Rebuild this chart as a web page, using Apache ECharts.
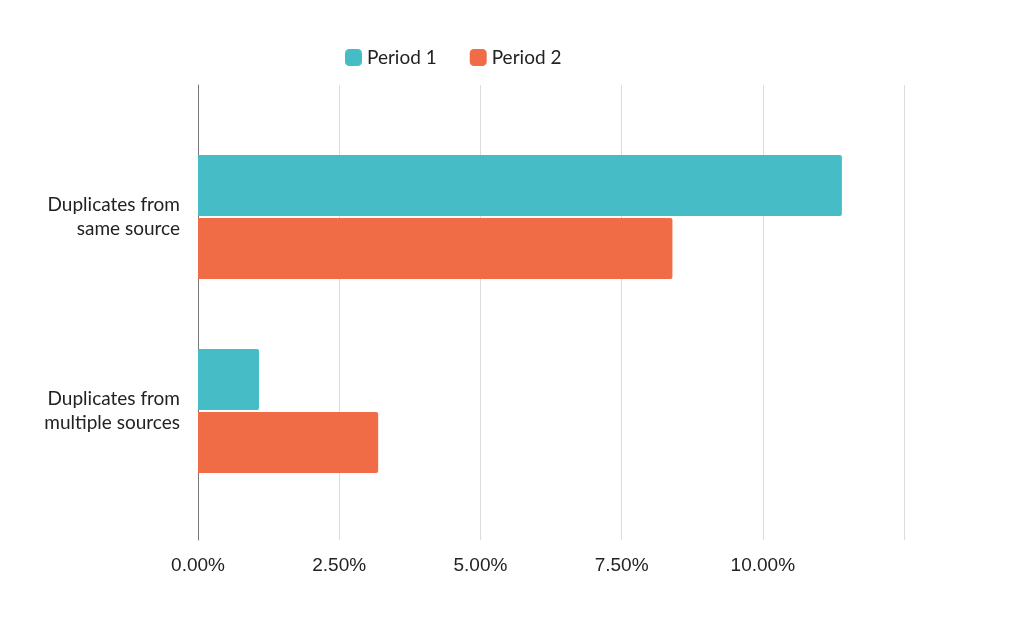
<!DOCTYPE html>
<html>
<head>
<meta charset="utf-8">
<script src="https://cdn.jsdelivr.net/npm/echarts@6/dist/echarts.min.js"></script>
<style>
html, body { margin: 0; padding: 0; background: #fff; }
#chart { width: 1024px; height: 633px; }
</style>
</head>
<body>
<div id="chart"></div>
<script>
// data
var categories = ['Duplicates from\nsame source', 'Duplicates from\nmultiple sources'];
var period1 = [11.4, 1.08];
var period2 = [8.4, 3.19];
var seriesNames = ['Period 1', 'Period 2'];
var colors = ['#46BDC6', '#F06C46'];

var labelFont = 'Lato, "Open Sans", sans-serif';

var option = {
  animation: false,
  legend: {
    left: 340,
    top: 43,
    itemWidth: 17,
    itemHeight: 17,
    itemGap: 33,
    icon: 'roundRect',
    textStyle: { fontSize: 19, color: '#222', fontFamily: labelFont },
    data: seriesNames
  },
  grid: [
    { left: 198, right: 120, top: 85, bottom: 93 },
    { left: 198, right: 120, top: 120, bottom: 125 }
  ],
  xAxis: [{
    gridIndex: 0,
    type: 'value',
    min: 0,
    max: 12.5,
    interval: 2.5,
    axisLine: { show: false },
    axisTick: { show: false },
    splitLine: { lineStyle: { color: '#dcdcdc', width: 1 } },
    axisLabel: {
      margin: 16,
      fontSize: 19,
      color: '#222',
      fontFamily: '"Liberation Sans", Arial, sans-serif',
      formatter: function (v) { return v >= 12.5 ? '' : v.toFixed(2) + '%'; }
    }
  }, {
    gridIndex: 1,
    type: 'value',
    min: 0,
    max: 12.5,
    show: false
  }],
  yAxis: [{
    gridIndex: 0,
    type: 'category',
    data: [''],
    axisLine: { show: true, lineStyle: { color: '#777', width: 1 } },
    axisTick: { show: false },
    axisLabel: { show: false }
  }, {
    gridIndex: 1,
    type: 'category',
    inverse: true,
    data: categories,
    axisLine: { show: false },
    axisTick: { show: false },
    axisLabel: {
      margin: 18,
      fontSize: 19,
      lineHeight: 24,
      color: '#222',
      fontFamily: labelFont,
      align: 'right'
    }
  }],
  series: [{
    name: seriesNames[0],
    type: 'bar',
    xAxisIndex: 1,
    yAxisIndex: 1,
    barWidth: 61,
    barGap: '3%',
    itemStyle: { color: colors[0], borderRadius: [0, 2, 2, 0] },
    data: period1
  }, {
    name: seriesNames[1],
    type: 'bar',
    xAxisIndex: 1,
    yAxisIndex: 1,
    barWidth: 61,
    barGap: '3%',
    itemStyle: { color: colors[1], borderRadius: [0, 2, 2, 0] },
    data: period2
  }]
};

echarts.init(document.getElementById('chart')).setOption(option);
</script>
</body>
</html>
